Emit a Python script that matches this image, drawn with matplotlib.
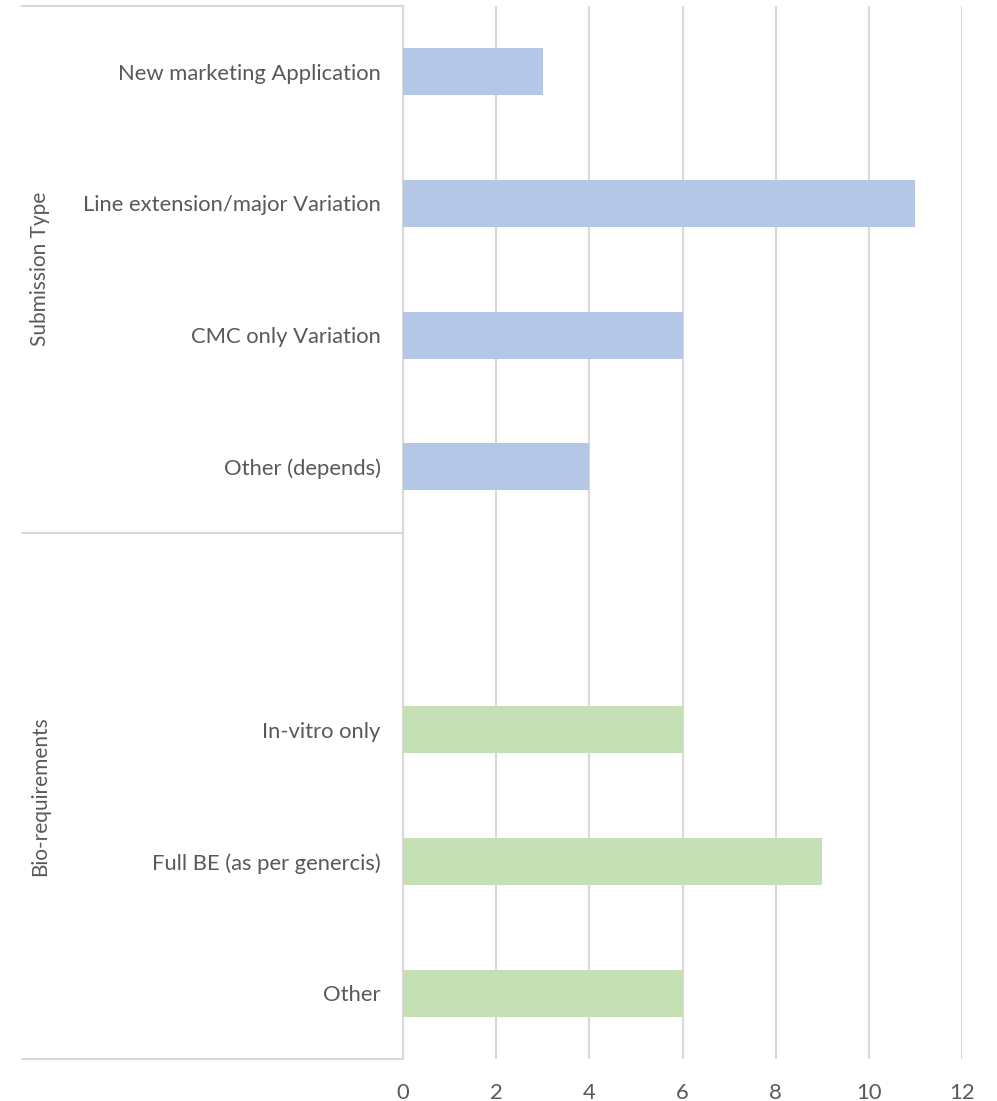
import matplotlib.pyplot as plt
import matplotlib.transforms as mtransforms

plt.rcParams['font.family'] = ['Lato', 'DejaVu Sans']

# donnees
categories = ["New marketing Application", "Line extension/major Variation",
              "CMC only Variation", "Other (depends)", "",
              "In-vitro only", "Full BE (as per genercis)", "Other"]
valeurs = [3, 11, 6, 4, None, 6, 9, 6]
groupes = ["Submission Type", "Bio-requirements"]
taille_groupes = [4, 4]
couleurs_groupes = ['#B4C7E7', '#C5E0B4']

gris = '#595959'
fig = plt.figure(figsize=(9.97, 11.01), dpi=100)
ax = fig.add_axes([403 / 997, 1 - 1059 / 1101, (962 - 403) / 997, (1059 - 6) / 1101])

pos = 0
for g, n in enumerate(taille_groupes):
    for i in range(pos, pos + n):
        if valeurs[i] is not None:
            ax.barh(i, valeurs[i], height=0.357, color=couleurs_groupes[g], zorder=3)
    pos += n

ax.set_ylim(len(categories) - 0.5, -0.5)
ax.set_xlim(0, 12)
ax.set_xticks(range(0, 13, 2))
ax.set_yticks(range(len(categories)))
ax.set_yticklabels(categories)
ax.tick_params(axis='y', length=0, pad=16, labelsize=15.8, labelcolor=gris)
ax.tick_params(axis='x', length=0, pad=17, labelsize=15.8, labelcolor=gris)
ax.grid(axis='x', color='#D9D9D9', linewidth=1.5, zorder=0)
for s in ['top', 'right', 'bottom']:
    ax.spines[s].set_visible(False)
ax.spines['left'].set_color('#D9D9D9')
ax.spines['left'].set_linewidth(1.5)

# lignes et libelles de groupes
trans = mtransforms.blended_transform_factory(ax.transAxes, ax.transData)
x_gauche = (22 - 403) / (962 - 403)
debut = -0.5
ax.plot([x_gauche, 0], [debut, debut], transform=trans, color='#D9D9D9',
        lw=1.5, clip_on=False)
for g, n in enumerate(taille_groupes):
    fin = debut + n
    ax.plot([x_gauche, 0], [fin, fin], transform=trans, color='#D9D9D9',
            lw=1.5, clip_on=False)
    ax.text((40 - 403) / (962 - 403), (debut + fin) / 2, groupes[g], transform=trans,
            rotation=90, ha='center', va='center', fontsize=15, color=gris)
    debut = fin

fig.savefig('out.png')
